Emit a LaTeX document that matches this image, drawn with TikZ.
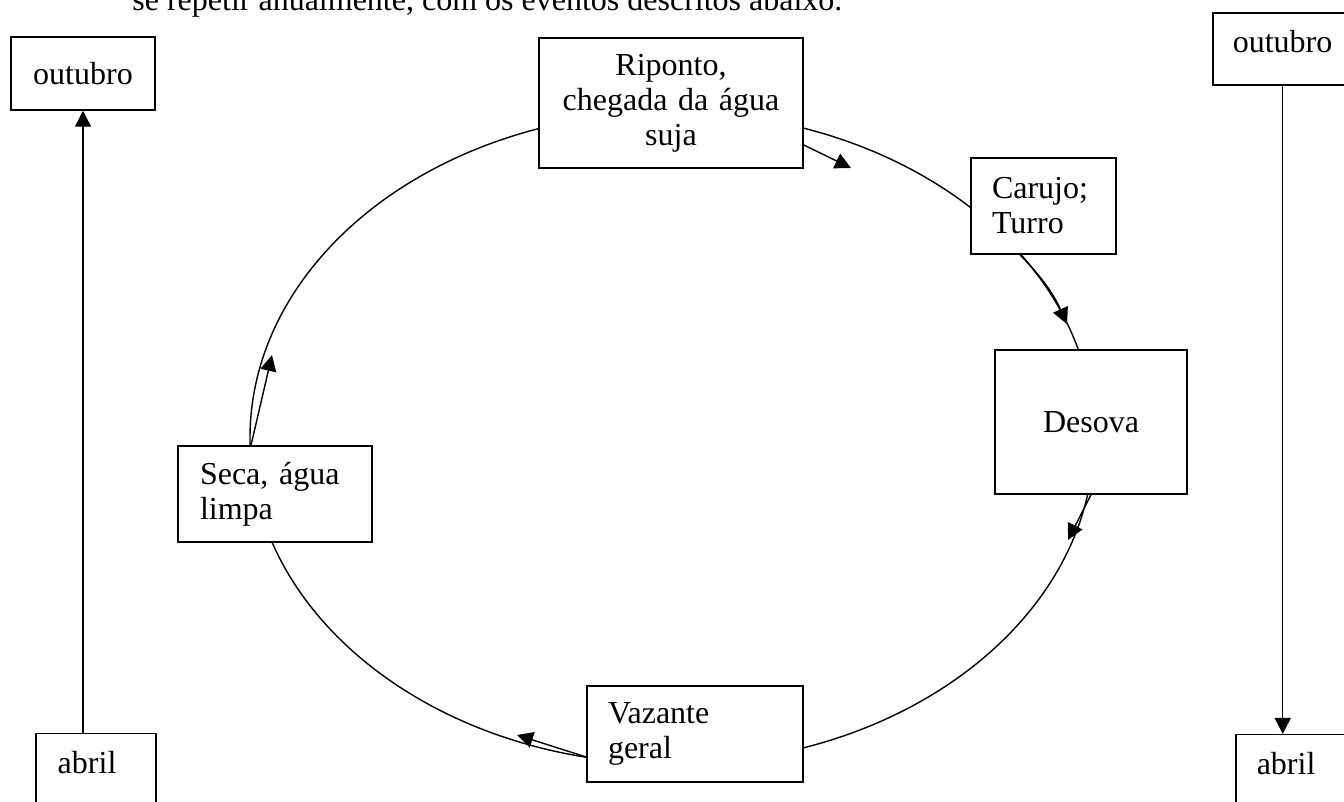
\documentclass[tikz,border=0pt]{standalone}
\usepackage{fontspec}
\setmainfont{Liberation Serif}
\usetikzlibrary{arrows.meta}

\begin{document}
\begin{tikzpicture}[x=0.5pt,y=0.5pt,
		evbox/.style={draw,fill=white,line width=0.75pt,font=\fontsize{16}{17.5}\selectfont,inner xsep=10.5pt,inner ysep=0pt},
		tip/.style={-{Triangle[length=8pt,width=8pt]},line width=0.7pt}]
		\useasboundingbox (0,0) rectangle (1344,802);
		\clip (0,0) rectangle (1344,802);
		\node (intro) [anchor=base west,inner sep=0pt,font=\fontsize{16}{17.5}\selectfont] at (132,791) {se repetir anualmente, com os eventos descritos abaixo.};
		\draw[line width=0.7pt] (672,364) ellipse [x radius=211pt,y radius=163pt];
		\node (outL) [evbox,minimum width=72pt,minimum height=36.5pt] at (83,728.5) {outubro};
		\node (abrL) [evbox,anchor=north west,text width=38pt,text height=20pt,text depth=30pt,inner xsep=11pt] at (35,69) {abril};
		\node (outR) [evbox,anchor=south west,text width=50pt,text height=19.5pt,text depth=16.5pt,inner xsep=10pt] at (1212,716) {outubro};
		\node (abrR) [evbox,anchor=north west,text width=40pt,text height=20pt,text depth=30pt] at (1235,68) {abril};
		\node (ripo) [evbox,align=center,text width=111pt,minimum height=65pt] at (671,699) {Riponto,\\chegada da água\\suja};
		\node (caru) [evbox,align=left,text width=51.5pt,minimum height=48pt] at (1043.5,596) {Carujo;\\Turro};
		\node (deso) [evbox,minimum width=96pt,minimum height=72pt] at (1091,380) {Desova};
		\node (seca) [evbox,align=left,text width=75pt,minimum height=48pt,inner xsep=11pt] at (275,308) {Seca, água\\limpa};
		\node (vaza) [evbox,align=left,text width=87pt,minimum height=48pt] at (695,68) {Vazante\\geral};
		\coordinate (t1) at (851,634);
		\coordinate (t2) at (1067,478);
		\coordinate (t3) at (1068,262);
		\coordinate (t4) at (517,67);
		\coordinate (t5) at (272,447);
		\draw ([yshift=-21pt]ripo.east) edge[tip] (t1);
		\draw ([xshift=-11.75pt]caru.south) edge[tip,bend left=10] (t2);
		\draw (deso.south) edge[tip] (t3);
		\draw ([yshift=-11.5pt]vaza.west) edge[tip] (t4);
		\draw ([xshift=-12pt]seca.north) edge[tip] (t5);
		\draw (outL.south |- abrL.north) edge[tip] (outL.south);
		\draw (outR.south) edge[tip] (outR.south |- abrR.north);
	\end{tikzpicture}
\end{document}
